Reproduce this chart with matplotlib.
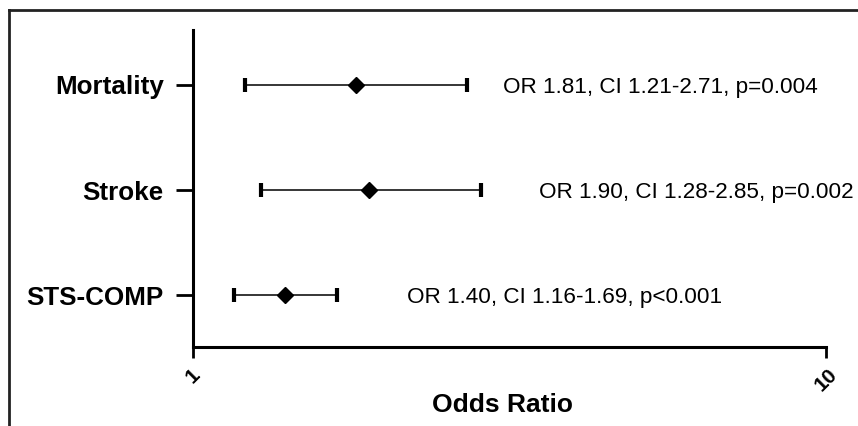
import numpy as np
import matplotlib
matplotlib.use('Agg')
import matplotlib.pyplot as plt
from matplotlib.lines import Line2D

# data
outcomes = ['Mortality', 'Stroke', 'STS-COMP']
odds = [1.81, 1.90, 1.40]
ci_low = [1.21, 1.28, 1.16]
ci_high = [2.71, 2.85, 1.69]
pvals = ['p=0.004', 'p=0.002', 'p<0.001']
text_offsets = [26, 42, 50]  # points to the right of the upper CI

plt.rcParams['font.family'] = ['Liberation Sans', 'DejaVu Sans']

fig = plt.figure(figsize=(8.58, 4.26), dpi=100)
ax = fig.add_axes([193 / 858, 1 - 347 / 426, (826 - 193) / 858, (347 - 30) / 426])

ypos = np.arange(1, len(outcomes) + 1)
odds_arr = np.array(odds)
err = [odds_arr - np.array(ci_low), np.array(ci_high) - odds_arr]
ax.errorbar(odds, ypos, xerr=err, fmt='D', color='black', ecolor='black',
            markersize=8, elinewidth=1.1, capsize=5, capthick=3)

for i in range(len(outcomes)):
    label = 'OR %.2f, CI %.2f-%.2f, %s' % (odds[i], ci_low[i], ci_high[i], pvals[i])
    ax.annotate(label, xy=(ci_high[i], ypos[i]), xytext=(text_offsets[i], 0),
                textcoords='offset points', va='center_baseline', ha='left',
                fontsize=16.2)

ax.set_xscale('log')
ax.set_xlim(1, 10)
ax.set_ylim(3.49, 0.48)
ax.set_xticks([1, 10])
ax.set_xticklabels(['1', '10'], rotation=45, fontsize=15, fontweight='bold')
ax.minorticks_off()
ax.set_yticks(ypos)
ax.set_yticklabels(outcomes, fontsize=18.7, fontweight='bold')
ax.tick_params(axis='y', length=12, width=2, pad=9)
ax.tick_params(axis='x', length=8, width=2, pad=5)
ax.spines['top'].set_visible(False)
ax.spines['right'].set_visible(False)
ax.spines['left'].set_linewidth(2.2)
ax.spines['bottom'].set_linewidth(2.2)
ax.set_xlabel('Odds Ratio', fontsize=19, fontweight='bold')
ax.xaxis.set_label_coords(0.489, -0.145)

# frame around the figure (top and left only reach the edges)
fig.add_artist(Line2D([9 / 858, 1], [1 - 10 / 426, 1 - 10 / 426],
                      transform=fig.transFigure, color='#222222', lw=2))
fig.add_artist(Line2D([9 / 858, 9 / 858], [0, 1 - 10 / 426],
                      transform=fig.transFigure, color='#222222', lw=2))

fig.savefig('out.png', dpi=100)
